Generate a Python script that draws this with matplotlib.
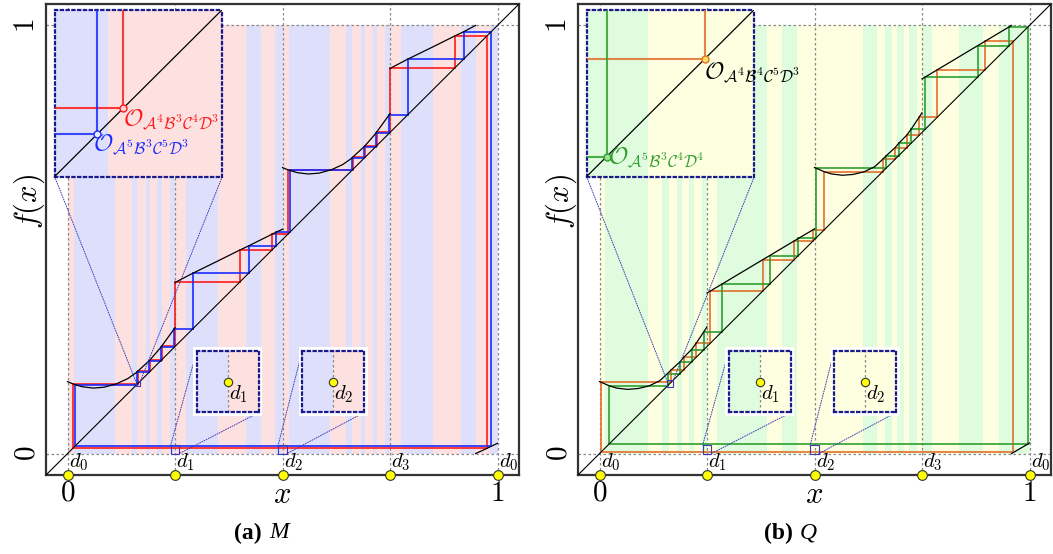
import numpy as np
import matplotlib.pyplot as plt
from matplotlib.patches import Rectangle, ConnectionPatch

plt.rcParams['mathtext.fontset'] = 'cm'
plt.rcParams['font.family'] = ['Liberation Serif', 'DejaVu Serif']

# discontinuity points of the circle maps
d_pts = [0.0, 0.25, 0.5, 0.75, 1.0]
d_names = ['d_0', 'd_1', 'd_2', 'd_3', 'd_0']

# ---- map M: sampled branches (x, f(x)); branch D runs past 1 and wraps to 0
m_ax = [0.0, 0.012, 0.017, 0.035, 0.06, 0.085, 0.114, 0.14, 0.1613, 0.163, 0.190, 0.192, 0.217, 0.219, 0.248, 0.25]
m_ay = [0.168, 0.163, 0.1613, 0.156, 0.153, 0.155, 0.163, 0.175, 0.190, 0.192, 0.217, 0.219, 0.248, 0.251, 0.291, 0.294]
m_bx = [0.25, 0.251, 0.291, 0.35, 0.400, 0.421, 0.475, 0.485, 0.5]
m_by = [0.399, 0.400, 0.421, 0.450, 0.475, 0.485, 0.512, 0.517, 0.524]
m_cx = [0.5, 0.512, 0.517, 0.535, 0.56, 0.585, 0.614, 0.64, 0.6613, 0.663, 0.690, 0.692, 0.717, 0.719, 0.748, 0.75]
m_cy = [0.668, 0.663, 0.6613, 0.656, 0.653, 0.655, 0.663, 0.675, 0.690, 0.692, 0.717, 0.719, 0.748, 0.751, 0.791, 0.794]
m_dx = [0.75, 0.751, 0.791, 0.85, 0.900, 0.921, 0.949, 0.975, 0.985, 1.0]
m_dy = [0.899, 0.900, 0.921, 0.950, 0.975, 0.985, 1.0, 1.012, 1.017, 1.024]

# periodic orbits of M
m_red = [0.012, 0.163, 0.192, 0.219, 0.251, 0.400, 0.475,
         0.512, 0.663, 0.692, 0.719, 0.751, 0.900, 0.975]
m_blue = [0.017, 0.1613, 0.190, 0.217, 0.248, 0.291, 0.421, 0.485,
          0.517, 0.6613, 0.690, 0.717, 0.748, 0.791, 0.921, 0.985]

m_edges = [0, .016, .110, .149, .162, .182, .192, .209, .219, .238, .25, .276, .351, .414, .451, .482,
           .5, .516, .61, .647, .661, .682, .692, .71, .72, .738, .75, .776, .85, .914, .951, .982, 1.0]

# ---- map Q
q_ax = [0.0, 0.0026, 0.0227, 0.04, 0.065, 0.09, 0.115, 0.14, 0.1583, 0.1671, 0.187, 0.196, 0.214, 0.225, 0.243, 0.25]
q_ay = [0.168, 0.1671, 0.1583, 0.153, 0.150, 0.152, 0.158, 0.170, 0.187, 0.196, 0.214, 0.225, 0.243, 0.258, 0.285, 0.296]
q_bx = [0.25, 0.258, 0.285, 0.3798, 0.396, 0.4529, 0.4626, 0.4967, 0.5]
q_by = [0.375, 0.3798, 0.396, 0.4529, 0.4626, 0.4967, 0.5026, 0.5227, 0.525]
q_cx = [0.5, 0.5026, 0.5227, 0.54, 0.565, 0.59, 0.615, 0.64, 0.6583, 0.6671, 0.687, 0.696, 0.714, 0.725, 0.743, 0.75]
q_cy = [0.668, 0.6671, 0.6583, 0.653, 0.650, 0.652, 0.658, 0.670, 0.687, 0.696, 0.714, 0.725, 0.743, 0.758, 0.785, 0.796]
q_dx = [0.75, 0.758, 0.785, 0.8798, 0.896, 0.9529, 0.9583, 0.9626, 0.9967, 1.0]
q_dy = [0.875, 0.8798, 0.896, 0.9529, 0.9626, 0.9967, 1.0, 1.0026, 1.0227, 1.025]

# periodic orbits of Q
q_orange = [0.0026, 0.1671, 0.196, 0.225, 0.258, 0.3798, 0.4529, 0.4967,
            0.5227, 0.6583, 0.687, 0.714, 0.743, 0.785, 0.896, 0.9626]
q_green = [0.0227, 0.1583, 0.187, 0.214, 0.243, 0.285, 0.396, 0.4626,
           0.5026, 0.6671, 0.696, 0.725, 0.758, 0.8798, 0.9529, 0.9967]

q_edges = [0, .012, .112, .146, .162, .18, .192, .209, .219, .238, .25, .273, .39, .425, .459,
           .5, .612, .646, .663, .68, .692, .707, .72, .738, .75, .774, .836, .891, .928, 1.0]

PINK, LAV = '#fde0e0', '#dee0fb'
YEL, MINT = '#fefee0', '#dffcdf'
m_cols = [PINK if i % 2 == 0 else LAV for i in range(len(m_edges) - 1)]
q_cols = ([YEL if i % 2 == 0 else MINT for i in range(15)] +
          [YEL if i % 2 == 0 else MINT for i in range(14)])

RED, BLUE = '#ff1a1a', '#1a2cff'
ORANGE, GREEN = '#e0702c', '#2e9e2e'
NAVY = '#1a1a8c'
DOT = (0, (1, 1.6))


def stripes(ax, edges, cols):
    for x0, x1, c in zip(edges[:-1], edges[1:], cols):
        ax.fill_between([x0, x1], 0, 1, color=c, lw=0, zorder=0)


def branches(ax, pieces, lw=0.9):
    for xs, ys in pieces:
        xs, ys = np.asarray(xs), np.asarray(ys)
        lo = ys <= 1.0
        ax.plot(xs[lo], ys[lo], color='k', lw=lw, zorder=4)
        hi = ys >= 1.0
        if hi.sum() > 1:
            ax.plot(xs[hi], ys[hi] - 1.0, color='k', lw=lw, zorder=4)


def cobweb(ax, orbit, color, lw=1.4):
    pts = list(orbit) + [orbit[0]]
    xs, ys = [], []
    for a, b in zip(pts[:-1], pts[1:]):
        xs += [a, a, b]
        ys += [a, b, b]
    ax.plot(xs, ys, color=color, lw=lw, alpha=0.85, zorder=3, solid_joinstyle='miter')


def dotted_frame(ax):
    for s in ax.spines.values():
        s.set_edgecolor(NAVY)
        s.set_linestyle(DOT)
        s.set_linewidth(1.6)
    ax.set_xticks([])
    ax.set_yticks([])


def connect(ax, axin, corner_in, pt):
    con = ConnectionPatch(xyA=corner_in, coordsA=axin.transAxes, xyB=pt, coordsB=ax.transData,
                          color='#3a3ab8', lw=0.7, ls=(0, (1, 1.5)), zorder=6)
    ax.add_artist(con)


def panel(ax, edges, cols, pieces, orbits, ocols, labels, lcols, lpos, win, pcols):
    ax.set_xlim(-0.05, 1.05)
    ax.set_ylim(-0.05, 1.05)
    stripes(ax, edges, cols)
    for d in d_pts:
        ax.plot([d, d], [-0.05, 1.05], color='#888888', lw=0.9, ls=(0, (2, 2)), zorder=1)
    for h in (0.0, 1.0):
        ax.plot([-0.05, 1.05], [h, h], color='#888888', lw=0.9, ls=(0, (2, 2)), zorder=1)
    ax.plot([-0.05, 1.05], [-0.05, 1.05], color='k', lw=0.8, zorder=4)
    for orb, c in zip(orbits, ocols):
        cobweb(ax, orb, c)
    branches(ax, pieces)

    for s in ax.spines.values():
        s.set_linewidth(1.6)
        s.set_edgecolor('#333333')
    ax.set_xticks([0, 1])
    ax.set_xticklabels(['$0$', '$1$'], fontsize=21)
    ax.set_yticks([0, 1])
    ax.set_yticklabels(['$0$', '$1$'], fontsize=21, rotation=90, va='center')
    ax.tick_params(length=0, pad=4)
    ax.text(0.5, -0.06, '$x$', transform=ax.transAxes, fontsize=22, ha='center', va='baseline')
    ax.text(-0.035, 0.58, '$f(x)$', transform=ax.transAxes, fontsize=22, ha='center',
            va='center', rotation=90)

    for d, n in zip(d_pts, d_names):
        ax.plot(d, -0.05, 'o', ms=7, mfc='#ffff00', mec='#333333', mew=0.8, clip_on=False, zorder=10)
        ax.text(d + 0.003, -0.046, '$%s$' % n, fontsize=15, ha='left', va='bottom', zorder=10)

    # zoom on the first points of the two orbits
    wx, ww = win
    axin = ax.inset_axes([-0.03, 0.647, 0.39, 0.39], transform=ax.transData, zorder=7)
    stripes(axin, edges, cols)
    axin.plot([0, 1], [0, 1], color='k', lw=0.9, zorder=4)
    for orb, c in zip(orbits, ocols):
        cobweb(axin, orb, c, lw=1.5)
    for orb, c, pc, lab, lc, (dx, dy) in zip(orbits, ocols, pcols, labels, lcols, lpos):
        p = orb[1]
        axin.plot(p, p, 'o', ms=5, mfc=pc, mec=c, mew=1.0, zorder=6)
        axin.annotate(lab, (p, p), xytext=(dx, dy), textcoords='offset points', fontsize=17,
                      color=lc, ha='left', va='top', annotation_clip=False, zorder=8)
    axin.set_xlim(wx, wx + ww)
    axin.set_ylim(wx, wx + ww)
    dotted_frame(axin)
    ax.add_patch(Rectangle((wx, wx), ww, ww, fill=False, ec='#3a3ab8', lw=0.8, zorder=6))
    connect(ax, axin, (0, 0), (wx, wx + ww))
    connect(ax, axin, (1, 0), (wx + ww, wx + ww))

    # zooms on d1 and d2
    for d, n, bx in ((0.25, 'd_1', 0.301), (0.5, 'd_2', 0.546)):
        ax.add_patch(Rectangle((bx - 0.008, 0.088), 0.16, 0.16, fc='white', ec='none', zorder=7))
        ai = ax.inset_axes([bx, 0.096, 0.144, 0.144], transform=ax.transData, zorder=8)
        stripes(ai, edges, cols)
        ai.plot([d, d], [0, 0.02], color='#888888', lw=0.9, ls=(0, (2, 2)))
        ai.plot(d, 0.01, 'o', ms=6, mfc='#ffff00', mec='#333333', mew=0.8, zorder=5)
        ai.text(d + 0.0003, 0.0095, '$%s$' % n, fontsize=15, ha='left', va='top')
        ai.set_xlim(d - 0.01, d + 0.01)
        ai.set_ylim(0.0, 0.02)
        dotted_frame(ai)
        ax.add_patch(Rectangle((d - 0.01, 0.0), 0.02, 0.02, fill=False, ec='#3a3ab8', lw=0.8, zorder=6))
        connect(ax, ai, (0, 1), (d - 0.01, 0.02))
        connect(ax, ai, (1, 0), (d + 0.01, 0.0))


fig = plt.figure(figsize=(10.53, 5.54), dpi=100)
ax1 = fig.add_axes([46 / 1053, 79 / 554, 473 / 1053, 471 / 554])
ax2 = fig.add_axes([578 / 1053, 79 / 554, 473 / 1053, 471 / 554])

lab_m = [r'$\mathcal{O}_{\mathcal{A}^4\mathcal{B}^3\mathcal{C}^4\mathcal{D}^3}$',
         r'$\mathcal{O}_{\mathcal{A}^5\mathcal{B}^3\mathcal{C}^5\mathcal{D}^3}$']
lab_q = [r'$\mathcal{O}_{\mathcal{A}^4\mathcal{B}^4\mathcal{C}^5\mathcal{D}^3}$',
         r'$\mathcal{O}_{\mathcal{A}^5\mathcal{B}^3\mathcal{C}^4\mathcal{D}^4}$']

panel(ax1, m_edges, m_cols,
      [(m_ax, m_ay), (m_bx, m_by), (m_cx, m_cy), (m_dx, m_dy)],
      [m_red, m_blue], [RED, BLUE], lab_m, [RED, BLUE], [(0, 1), (-3, 1)],
      (0.1585, 0.011), ['#ffd0d0', '#e8f0ff'])
panel(ax2, q_edges, q_cols,
      [(q_ax, q_ay), (q_bx, q_by), (q_cx, q_cy), (q_dx, q_dy)],
      [q_orange, q_green], [ORANGE, GREEN], lab_q, ['black', GREEN], [(-1, -1), (1, 8)],
      (0.1565, 0.015), ['#ffe060', '#9be09b'])

fig.text(262 / 1053, 1 - 533 / 554, '(a)', fontsize=17, fontweight='bold', ha='right', va='center')
fig.text(269 / 1053, 1 - 533 / 554, 'M', fontsize=17, style='italic', ha='left', va='center')
fig.text(793 / 1053, 1 - 533 / 554, '(b)', fontsize=17, fontweight='bold', ha='right', va='center')
fig.text(800 / 1053, 1 - 533 / 554, 'Q', fontsize=17, style='italic', ha='left', va='center')

fig.savefig('out.png', dpi=100)
